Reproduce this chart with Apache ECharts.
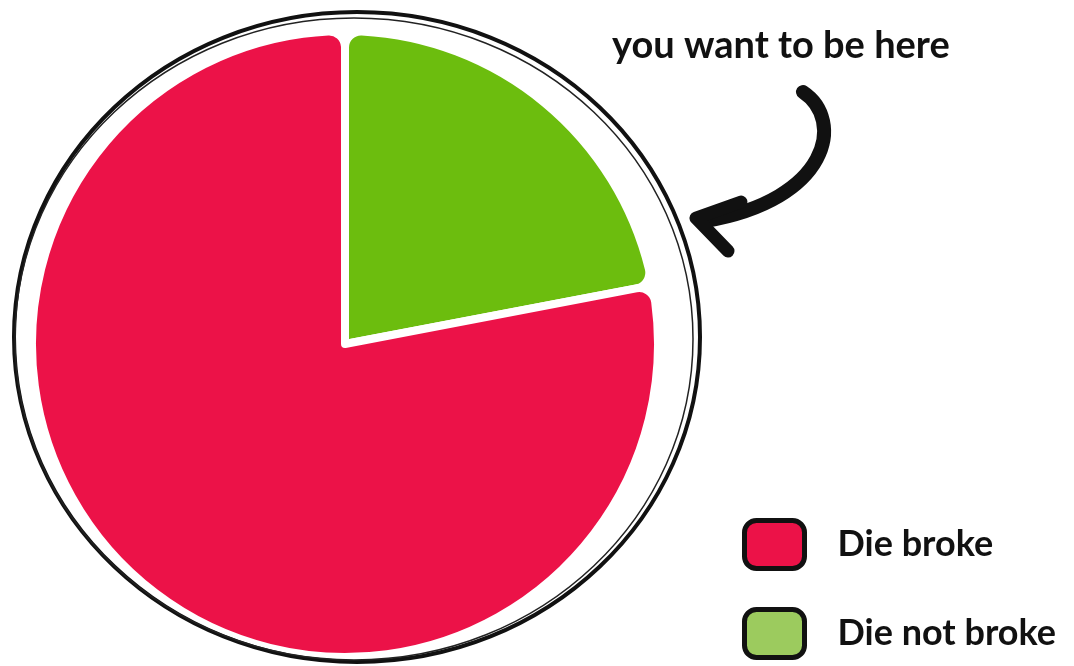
<!DOCTYPE html>
<html>
<head>
<meta charset="utf-8">
<style>
  html, body { margin: 0; padding: 0; background: #ffffff; }
  #chart { width: 1074px; height: 666px; }
</style>
<script src="https://cdn.jsdelivr.net/npm/echarts@6/dist/echarts.min.js"></script>
</head>
<body>
<div id="chart"></div>
<script>
// Data
var categories = ['Die not broke', 'Die broke'];
var values = [22, 78];
var sliceColors = ['#6cbd0e', '#ec1248'];
var legendOrder = ['Die broke', 'Die not broke'];
var legendColors = ['#ec1248', '#9ccb5e'];
var annotation = 'you want to be here';

var chart = echarts.init(document.getElementById('chart'));

var pieData = categories.map(function (c, i) {
  return { name: c, value: values[i], itemStyle: { color: sliceColors[i] } };
});
var legendData = legendOrder.map(function (n, i) {
  return { name: n, itemStyle: { color: legendColors[i] } };
});

var option = {
  backgroundColor: '#ffffff',
  animation: false,
  title: {
    text: annotation,
    left: 607,
    top: 22,
    textStyle: { fontFamily: 'Lato', fontWeight: 'bold', fontSize: 38, color: '#111111' }
  },
  legend: {
    orient: 'vertical',
    left: 737,
    top: 513,
    itemWidth: 60,
    itemHeight: 48,
    itemGap: 36,
    icon: 'roundRect',
    data: legendData,
    itemStyle: { borderColor: '#111111', borderWidth: 5 },
    textStyle: { fontFamily: 'Lato', fontWeight: 'bold', fontSize: 36, color: '#111111', padding: [0, 0, 0, 28] }
  },
  graphic: [
    {
      type: 'ellipse',
      shape: { cx: 357, cy: 337, rx: 343, ry: 325 },
      style: { fill: 'none', stroke: '#111111', lineWidth: 4 },
      z: 10
    },
    {
      type: 'ellipse',
      shape: { cx: 354, cy: 339, rx: 339, ry: 321 },
      style: { fill: 'none', stroke: '#222222', lineWidth: 1.5 },
      z: 10
    },
    {
      type: 'bezierCurve',
      shape: { x1: 803, y1: 92, cpx1: 845, cpy1: 120, cpx2: 830, cpy2: 200, x2: 705, y2: 221 },
      style: { fill: 'none', stroke: '#111111', lineWidth: 14, lineCap: 'round' },
      z: 10
    },
    {
      type: 'polyline',
      shape: { points: [[741, 202], [696, 218], [728, 251]] },
      style: { fill: 'none', stroke: '#111111', lineWidth: 13, lineCap: 'round', lineJoin: 'round' },
      z: 10
    }
  ],
  series: [
    {
      type: 'pie',
      center: [345, 344],
      radius: ['0%', 313],
      startAngle: 90,
      clockwise: true,
      label: { show: false },
      labelLine: { show: false },
      emphasis: { disabled: true },
      itemStyle: { borderColor: '#ffffff', borderWidth: 8, borderRadius: 16 },
      data: pieData,
      z: 3
    }
  ]
};

chart.setOption(option);
</script>
</body>
</html>
